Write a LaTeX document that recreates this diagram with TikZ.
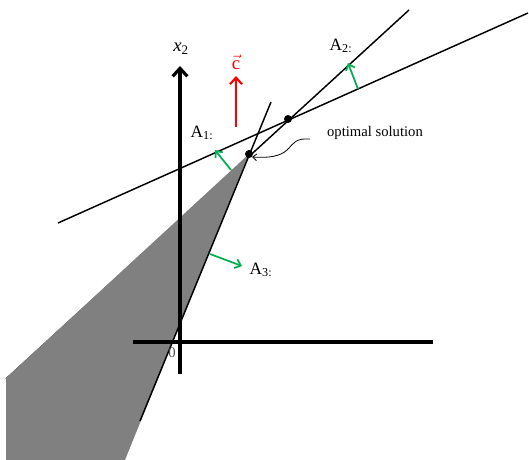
\documentclass[tikz,border=0pt]{standalone}
\usepackage{fontspec}
\setmainfont{Liberation Serif}
\setmathrm{Liberation Serif}
\usetikzlibrary{arrows.meta}
\definecolor{nrmgreen}{RGB}{0,176,80}
\begin{document}
\begin{tikzpicture}[x=0.75pt,y=-0.75pt,
  ln/.style={line width=1.1pt},
  axis/.style={line width=2.4pt},
  nrm/.style={draw=nrmgreen,line width=1.3pt,-{Straight Barb[length=4pt,width=7pt]}},
  lbl/.style={font=\fontsize{12}{14}\selectfont,inner sep=1pt},
  dot/.style={circle,fill=black,inner sep=0pt,minimum size=6pt}]
\useasboundingbox (0,0) rectangle (529,460);
\coordinate (L1a) at (58,223);
\coordinate (L1b) at (528,13);
\coordinate (L2a) at (409,10);
\coordinate (L2b) at (6,379);
\coordinate (L3a) at (271,102);
\coordinate (L3b) at (140,421);
\draw[ln] (L2a) -- (L2b);
\fill[gray] (249,154) -- (6,378) -- (6,460) -- (125,460) -- cycle;
\draw[ln] (L1a) -- (L1b);
\draw[ln] (L3a) -- (L3b);
\coordinate (X1a) at (133,342);
\coordinate (X1b) at (433,342);
\coordinate (X2a) at (180,374);
\coordinate (X2b) at (180,66);
\draw[axis] (X1a) -- (X1b);
\draw[axis,-{Straight Barb[length=6pt,width=11pt]}] (X2a) -- (X2b);
\node[lbl,font=\fontsize{14}{16}\selectfont] (x2) at (181,49) {\textit{x}\textsubscript{2}};
\node[lbl,font=\fontsize{11}{13}\selectfont,text=gray!60!black] (o) at (172,353) {0};
\coordinate (c0) at (236,127);
\coordinate (c1) at (236,76);
\draw[red,line width=1.6pt,-{Straight Barb[length=5pt,width=9pt]}] (c0) -- (c1);
\node[lbl,text=red,font=\fontsize{14}{16}\selectfont] (c) at (236,62) {$\vec{\mathrm{c}}$};
\node[dot] (Q) at (288,119) {};
\node[dot] (P) at (249,154) {};
\coordinate (n1a) at (231,170);
\coordinate (n1b) at (215,150);
\coordinate (n2a) at (358,89);
\coordinate (n2b) at (348,63);
\coordinate (n3a) at (210,254);
\coordinate (n3b) at (242,266);
\draw[nrm] (n1a) -- (n1b);
\draw[nrm] (n2a) -- (n2b);
\draw[nrm] (n3a) -- (n3b);
\node[lbl,font=\fontsize{13}{15}\selectfont] (A1) at (202,133) {A\textsubscript{1:}};
\node[lbl,font=\fontsize{13}{15}\selectfont] (A2) at (341,46) {A\textsubscript{2:}};
\node[lbl,font=\fontsize{13}{15}\selectfont] (A3) at (261,270) {A\textsubscript{3:}};
\node[lbl,font=\fontsize{11}{13}\selectfont] (opt) at (375,133) {optimal solution};
\draw[line width=0.6pt,-{Straight Barb[length=3pt,width=5pt]}] (310,139) .. controls (282,137) and (300,160) .. (P.south east);
\end{tikzpicture}
\end{document}
